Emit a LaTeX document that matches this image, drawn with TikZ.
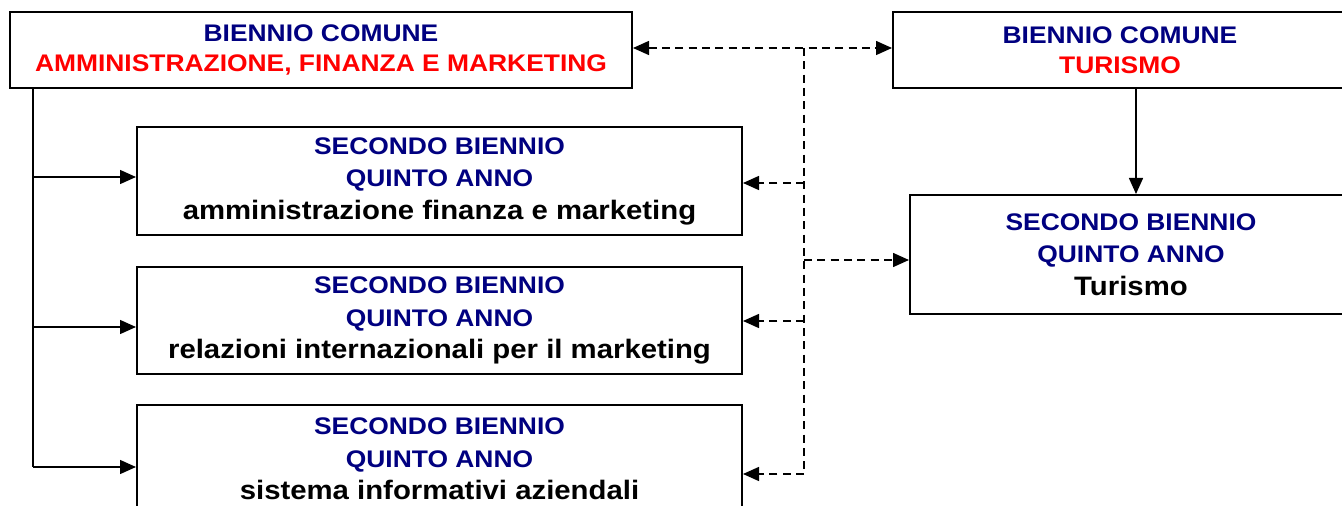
\documentclass[tikz,border=0pt]{standalone}
\usepackage{fontspec}
\setmainfont{Liberation Sans}[FakeStretch=1.1]
\usetikzlibrary{arrows.meta}
\definecolor{navyb}{RGB}{0,0,128}
\definecolor{redb}{RGB}{255,0,0}
\newcommand{\lowtxt}[1]{{\fontsize{20}{24.4}\selectfont #1}}
\begin{document}
\begin{tikzpicture}[x=0.75pt,y=-0.75pt,
  boxbase/.style={draw, line width=1.5pt, inner sep=0pt, align=center},
  topbox/.style={boxbase, minimum height=57pt, font=\fontsize{18}{22.5}\selectfont\bfseries},
  subbox/.style={boxbase, font=\fontsize{18}{24.4}\selectfont\bfseries},
  solidline/.style={line width=1.1pt},
  solidarrow/.style={solidline, -{Triangle[length=12pt,width=10.5pt]}},
  dsh/.style={line width=1.1pt, dash pattern=on 6pt off 4pt}]
\useasboundingbox (0,0) rectangle (1342,506);
\clip (0,0) rectangle (1342,506);
\fill[white] (0,0) rectangle (1342,506);

% boxes
\node[topbox, minimum width=466.5pt] (A) at (321,50)
  {\textcolor{navyb}{BIENNIO COMUNE}\\\textcolor{redb}{AMMINISTRAZIONE, FINANZA E MARKETING}};
\node[topbox, minimum width=340.5pt] (B) at (1120,50)
  {\textcolor{navyb}{BIENNIO COMUNE}\\\textcolor{redb}{TURISMO}};
\node[subbox, minimum width=453.75pt, minimum height=81pt] (C1) at (439.5,181)
  {\textcolor{navyb}{SECONDO BIENNIO}\\\textcolor{navyb}{QUINTO ANNO}\\\lowtxt{amministrazione finanza e marketing}};
\node[subbox, minimum width=453.75pt, minimum height=80.25pt] (C2) at (439.5,320.5)
  {\textcolor{navyb}{SECONDO BIENNIO}\\\textcolor{navyb}{QUINTO ANNO}\\\lowtxt{relazioni internazionali per il marketing}};
\node[subbox, minimum width=453.75pt, minimum height=81pt] (C3) at (439.5,459)
  {\textcolor{navyb}{SECONDO BIENNIO}\\\textcolor{navyb}{QUINTO ANNO}\\\lowtxt{sistema informativi aziendali}};
\node[subbox, minimum width=331.5pt, minimum height=89.25pt] (D) at (1131,254.5)
  {\textcolor{navyb}{SECONDO BIENNIO}\\\textcolor{navyb}{QUINTO ANNO}\\\lowtxt{Turismo}};

% solid left trunk
\coordinate (lt0) at (33,88);
\coordinate (l1) at (33,177);
\coordinate (l2) at (33,327);
\coordinate (l3) at (33,467);
\draw[solidline] (lt0) -- (l3);
\draw[solidarrow] (l1) -- (l1 -| C1.west);
\draw[solidarrow] (l2) -- (l2 -| C2.west);
\draw[solidarrow] (l3) -- (l3 -| C3.west);

% B to D
\coordinate (bd) at (1136,88);
\draw[solidarrow] (bd) -- (bd |- D.north);

% dashed links
\coordinate (d0) at (804,48);
\coordinate (d1) at (804,183);
\coordinate (dD) at (804,260);
\coordinate (d2) at (804,321);
\coordinate (d3) at (804,474);
\draw[dsh, {Triangle[length=12pt,width=10.5pt]}-{Triangle[length=12pt,width=10.5pt]}] (d0 -| A.east) -- (d0 -| B.west);
\draw[dsh] (d0) -- (d3);
\draw[dsh, -{Triangle[length=12pt,width=10.5pt]}] (d1) -- (d1 -| C1.east);
\draw[dsh, -{Triangle[length=12pt,width=10.5pt]}] (dD) -- (dD -| D.west);
\draw[dsh, -{Triangle[length=12pt,width=10.5pt]}] (d2) -- (d2 -| C2.east);
\draw[dsh, -{Triangle[length=12pt,width=10.5pt]}] (d3) -- (d3 -| C3.east);
\end{tikzpicture}
\end{document}
